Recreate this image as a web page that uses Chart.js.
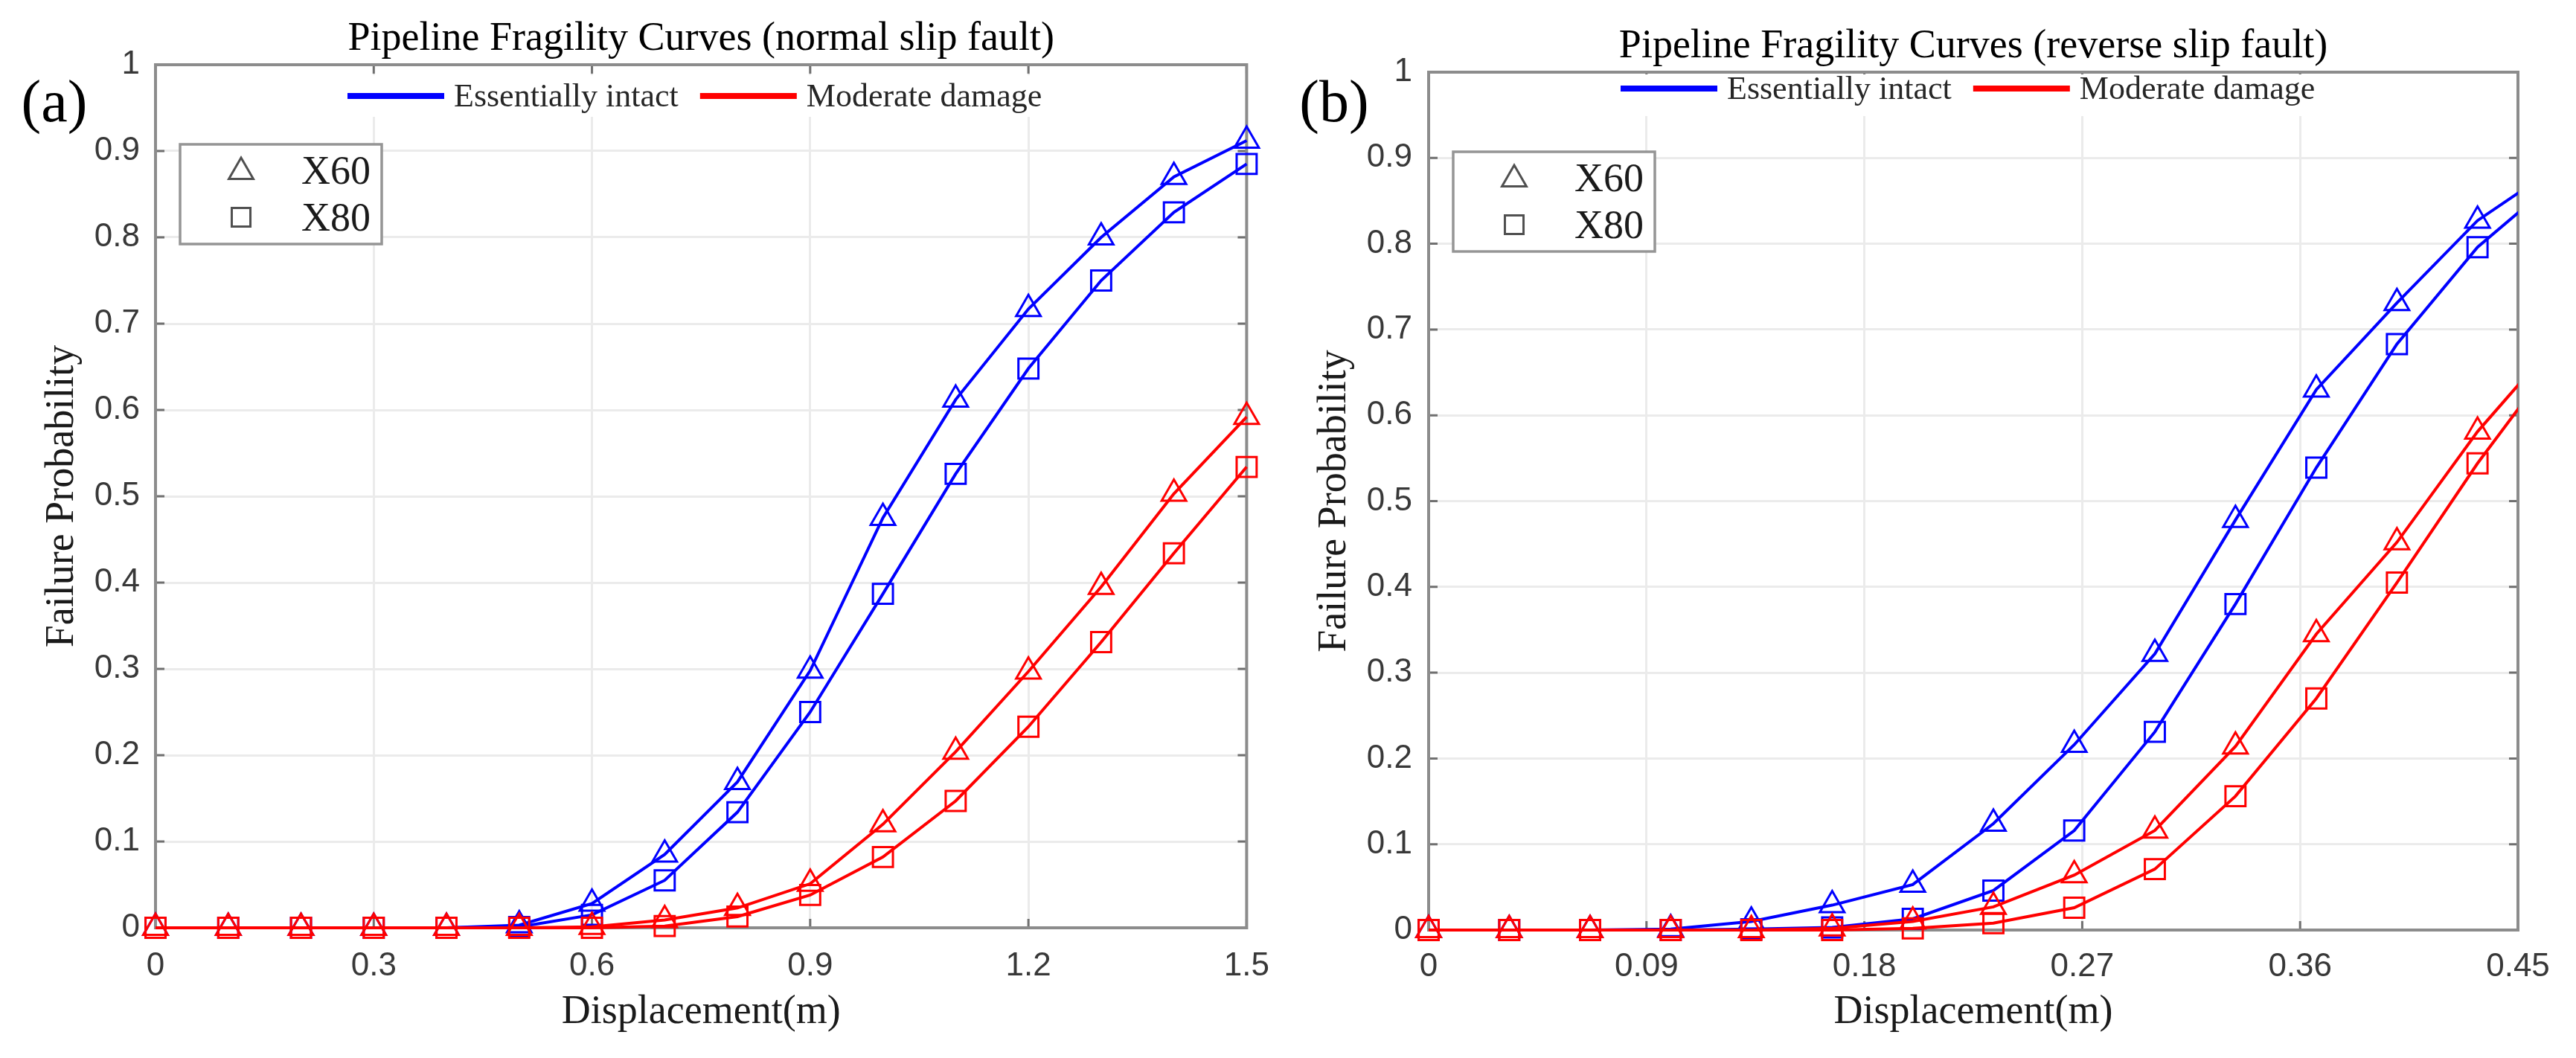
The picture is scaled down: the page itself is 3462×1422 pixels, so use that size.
<!DOCTYPE html>
<html><head><meta charset="utf-8">
<script src="https://cdn.jsdelivr.net/npm/chart.js@4.4.0/dist/chart.umd.min.js"></script>
<style>
html,body{margin:0;padding:0;background:#fff;width:3462px;height:1422px;overflow:hidden;}
.panel{position:absolute;top:0;width:1731px;height:1422px;}
</style></head><body>
<div class="panel" style="left:0"><canvas id="ca" width="1731" height="1422"></canvas></div>
<div class="panel" style="left:1731px"><canvas id="cb" width="1731" height="1422"></canvas></div>
<script>
// ---------- data ----------
const titleA = 'Pipeline Fragility Curves (normal slip fault)';
const titleB = 'Pipeline Fragility Curves (reverse slip fault)';
const xTitle = 'Displacement(m)';
const yTitle = 'Failure Probability';
const panelLabels = ['(a)', '(b)'];
const seriesLabels = ['Essentially intact', 'Moderate damage'];
const seriesColors = ['#0000ff', '#ff0000'];
const gradeLabels = ['X60', 'X80'];
const gradeStyles = ['triangle', 'rect'];

const yTicks = [0, 0.1, 0.2, 0.3, 0.4, 0.5, 0.6, 0.7, 0.8, 0.9, 1];
const xTicksA = [0, 0.3, 0.6, 0.9, 1.2, 1.5];
const xTicksB = [0, 0.09, 0.18, 0.27, 0.36, 0.45];

const xA = [0, 0.1, 0.2, 0.3, 0.4, 0.5, 0.6, 0.7, 0.8, 0.9, 1.0, 1.1, 1.2, 1.3, 1.4, 1.5];
const aIntactX60   = [0, 0, 0, 0, 0, 0.003, 0.028, 0.085, 0.169, 0.298, 0.475, 0.612, 0.717, 0.800, 0.870, 0.912];
const aIntactX80   = [0, 0, 0, 0, 0, 0.001, 0.015, 0.055, 0.134, 0.250, 0.387, 0.526, 0.648, 0.750, 0.829, 0.885];
const aModerateX60 = [0, 0, 0, 0, 0, 0, 0.001, 0.009, 0.023, 0.051, 0.120, 0.204, 0.297, 0.395, 0.503, 0.592];
const aModerateX80 = [0, 0, 0, 0, 0, 0, 0, 0.002, 0.013, 0.038, 0.082, 0.147, 0.233, 0.331, 0.434, 0.534];

const xB = [0, 0.0333, 0.0667, 0.1, 0.1333, 0.1667, 0.2, 0.2333, 0.2667, 0.3, 0.3333, 0.3667, 0.4, 0.4333, 0.4667];
const bIntactX60   = [0, 0, 0, 0.001, 0.010, 0.029, 0.053, 0.124, 0.216, 0.322, 0.478, 0.630, 0.731, 0.827, 0.891];
const bIntactX80   = [0, 0, 0, 0, 0.001, 0.003, 0.013, 0.046, 0.116, 0.231, 0.380, 0.539, 0.683, 0.796, 0.876];
const bModerateX60 = [0, 0, 0, 0, 0, 0.002, 0.010, 0.027, 0.064, 0.116, 0.214, 0.345, 0.452, 0.581, 0.689];
const bModerateX80 = [0, 0, 0, 0, 0, 0, 0.002, 0.008, 0.026, 0.071, 0.156, 0.270, 0.405, 0.544, 0.670];

// ---------- helpers ----------
const SERIF = '"Liberation Serif", "Times New Roman", serif';
const SANS = '"Liberation Sans", Arial, sans-serif';

function markerPath(ctx, style, cx, cy, r) {
  ctx.beginPath();
  if (style === 'triangle') {
    let rad = 0;
    ctx.moveTo(cx + Math.sin(rad) * r, cy - Math.cos(rad) * r);
    rad += 2 * Math.PI / 3;
    ctx.lineTo(cx + Math.sin(rad) * r, cy - Math.cos(rad) * r);
    rad += 2 * Math.PI / 3;
    ctx.lineTo(cx + Math.sin(rad) * r, cy - Math.cos(rad) * r);
    ctx.closePath();
  } else {
    const s = r * Math.SQRT1_2;
    ctx.rect(cx - s, cy - s, 2 * s, 2 * s);
  }
}

const decor = {
  id: 'decor',
  beforeDatasetsDraw(chart, args, o) {
    const {ctx, chartArea: a, scales: {x, y}} = chart;
    ctx.save();
    ctx.strokeStyle = '#707070';
    ctx.lineWidth = 3;
    ctx.beginPath();
    x.ticks.forEach(t => {
      const px = x.getPixelForValue(t.value);
      ctx.moveTo(px, a.bottom); ctx.lineTo(px, a.bottom - 12);
      ctx.moveTo(px, a.top); ctx.lineTo(px, a.top + 12);
    });
    y.ticks.forEach(t => {
      const py = y.getPixelForValue(t.value);
      ctx.moveTo(a.left, py); ctx.lineTo(a.left + 12, py);
      ctx.moveTo(a.right, py); ctx.lineTo(a.right - 12, py);
    });
    ctx.stroke();
    ctx.strokeStyle = '#8c8c8c';
    ctx.lineWidth = 4;
    ctx.strokeRect(a.left, a.top, a.right - a.left, a.bottom - a.top);
    ctx.restore();
  },
  afterDraw(chart, args, o) {
    const {ctx, chartArea: a} = chart;
    ctx.save();
    // series legend (no box, white background)
    ctx.font = '44px ' + SERIF;
    ctx.textBaseline = 'middle';
    ctx.textAlign = 'left';
    const lineLen = 130, gapT = 13, gapI = 29;
    const widths = seriesLabels.map(s => ctx.measureText(s).width);
    let total = 0;
    widths.forEach((w, i) => { total += lineLen + gapT + w + (i < widths.length - 1 ? gapI : 0); });
    let xx = a.left + o.legendX;
    const yy = a.top + o.legendY;
    ctx.fillStyle = '#ffffff';
    ctx.fillRect(xx - 12, Math.max(a.top + 3, yy - 28), total + 24, 56);
    seriesLabels.forEach((lab, i) => {
      ctx.strokeStyle = seriesColors[i];
      ctx.lineWidth = 8;
      ctx.beginPath(); ctx.moveTo(xx, yy); ctx.lineTo(xx + lineLen, yy); ctx.stroke();
      xx += lineLen + gapT;
      ctx.fillStyle = '#262626';
      ctx.fillText(lab, xx, yy + 2);
      xx += widths[i] + gapI;
    });
    // grade legend (boxed)
    const bx = a.left + 33, by = a.top + 107, bw = 271, bh = 134;
    ctx.fillStyle = '#ffffff';
    ctx.fillRect(bx, by, bw, bh);
    ctx.strokeStyle = '#959595';
    ctx.lineWidth = 3.5;
    ctx.strokeRect(bx, by, bw, bh);
    ctx.font = '54px ' + SERIF;
    gradeLabels.forEach((lab, i) => {
      const cy = a.top + (i === 0 ? 144 : 205);
      ctx.strokeStyle = '#505050';
      ctx.lineWidth = 3;
      markerPath(ctx, gradeStyles[i], a.left + 115, cy, i === 0 ? 19 : 17.7);
      ctx.stroke();
      ctx.fillStyle = '#1a1a1a';
      ctx.fillText(lab, a.left + 196, a.top + (i === 0 ? 146 : 209));
    });
    // panel label
    ctx.font = '80px ' + SERIF;
    ctx.textAlign = 'center';
    ctx.fillStyle = '#000000';
    ctx.fillText(o.panelLabel, o.labelX, o.labelY);
    ctx.restore();
  }
};

function series(label, xs, ys, color, style, order, clip) {
  return {
    label: label,
    data: xs.map((v, i) => ({x: v, y: ys[i]})),
    borderColor: color,
    backgroundColor: color,
    borderWidth: 4,
    pointStyle: style,
    pointRadius: 19,
    pointBorderWidth: 3,
    pointBorderColor: color,
    pointBackgroundColor: 'rgba(0,0,0,0)',
    tension: 0,
    fill: false,
    order: order,
    clip: clip
  };
}

function makePanel(id, L, title, xs, d, xTicks, xMax) {
  const clip = L.clip;
  const datasets = [
    series(seriesLabels[0] + ' ' + gradeLabels[0], xs, d[0], seriesColors[0], gradeStyles[0], 4, clip),
    series(seriesLabels[0] + ' ' + gradeLabels[1], xs, d[1], seriesColors[0], gradeStyles[1], 3, clip),
    series(seriesLabels[1] + ' ' + gradeLabels[0], xs, d[2], seriesColors[1], gradeStyles[0], 2, clip),
    series(seriesLabels[1] + ' ' + gradeLabels[1], xs, d[3], seriesColors[1], gradeStyles[1], 1, clip)
  ];
  return new Chart(document.getElementById(id), {
    type: 'line',
    data: {datasets: datasets},
    plugins: [decor],
    options: {
      responsive: false,
      devicePixelRatio: 1,
      animation: false,
      events: [],
      layout: {padding: {top: 0, left: 0, right: L.padRight, bottom: 0}},
      plugins: {
        legend: {display: false},
        tooltip: {enabled: false},
        title: {
          display: true, text: title, fullSize: false, color: '#000000',
          font: {family: SERIF, size: 54, weight: 'normal'},
          padding: {top: L.titleTop, bottom: L.titleBottom}
        },
        decor: {legendX: 258, legendY: L.legendY, panelLabel: L.panelLabel, labelX: L.labelX, labelY: 142}
      },
      scales: {
        x: {
          type: 'linear', min: 0, max: xMax,
          afterBuildTicks: s => { s.ticks = xTicks.map(v => ({value: v})); },
          afterFit: s => { s.height = L.xH; },
          grid: {color: '#ebebeb', lineWidth: 3, drawTicks: false},
          border: {display: false},
          ticks: {font: {family: SANS, size: 44}, color: '#383838', padding: L.xTickPad, maxRotation: 0, autoSkip: false,
                  callback: v => String(v)},
          title: {display: true, text: xTitle, color: '#1a1a1a', font: {family: SERIF, size: 54, weight: 'normal'},
                  padding: {top: 0, bottom: 29}}
        },
        y: {
          type: 'linear', min: 0, max: 1,
          afterBuildTicks: s => { s.ticks = yTicks.map(v => ({value: v})); },
          afterFit: s => { s.width = L.yW; },
          grid: {color: '#ebebeb', lineWidth: 3, drawTicks: false},
          border: {display: false},
          ticks: {font: {family: SANS, size: 44}, color: '#383838', padding: L.yTickPad, autoSkip: false,
                  callback: v => String(v)},
          title: {display: true, text: yTitle, color: '#1a1a1a', font: {family: SERIF, size: 54, weight: 'normal'},
                  padding: {top: L.yTitlePad, bottom: 0}}
        }
      }
    }
  });
}

makePanel('ca', {padRight: 47, titleTop: 20, titleBottom: 2.2, xH: 175, yW: 209, xTickPad: 25, yTickPad: 21,
                 yTitlePad: 51, legendY: 42, panelLabel: panelLabels[0], labelX: 73, clip: false},
          titleA, xA, [aIntactX60, aIntactX80, aModerateX60, aModerateX80], xTicksA, 1.5);
makePanel('cb', {padRight: 78, titleTop: 30, titleBottom: 2.2, xH: 172, yW: 189, xTickPad: 23, yTickPad: 22,
                 yTitlePad: 30, legendY: 22, panelLabel: panelLabels[1], labelX: 62,
                 clip: {left: 40, top: 0, right: 0, bottom: 40}},
          titleB, xB, [bIntactX60, bIntactX80, bModerateX60, bModerateX80], xTicksB, 0.45);
</script>
</body></html>
